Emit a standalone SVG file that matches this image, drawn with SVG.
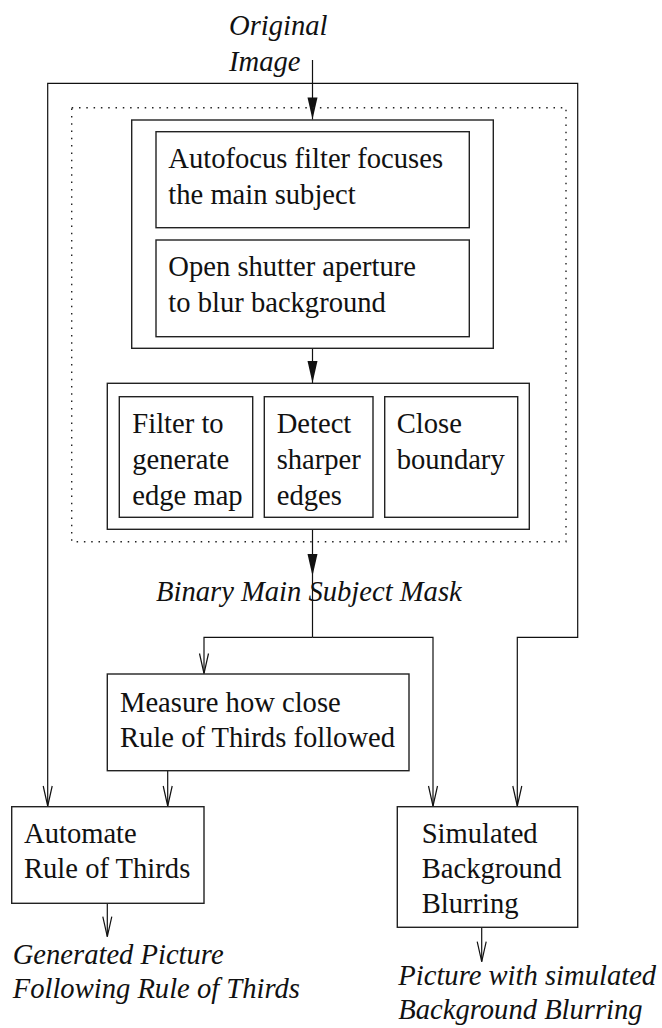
<svg xmlns="http://www.w3.org/2000/svg" width="662" height="1028" viewBox="0 0 662 1028">
<style>
.box{fill:none;stroke:#222;stroke-width:1.4}
.dot{fill:none;stroke:#222;stroke-width:1.4;stroke-dasharray:1.5 5.8}
.conn{fill:none;stroke:#111;stroke-width:1.2}
.t{font-family:"Liberation Serif","Times New Roman",serif;font-size:28.6px;fill:#111}
.i{font-style:italic}
</style>
<defs>
<marker id="fa" markerUnits="userSpaceOnUse" markerWidth="22" markerHeight="10" refX="22" refY="5" orient="auto" overflow="visible">
<path d="M0,0 L22,5 L0,10 z" fill="#111"/>
</marker>
<marker id="oa" markerUnits="userSpaceOnUse" markerWidth="20" markerHeight="10" refX="20" refY="4.5" orient="auto" overflow="visible">
<path d="M0,0 L20,4.5 L0,9" fill="none" stroke="#111" stroke-width="1.2"/>
</marker>
</defs>
<g id="connectors">
<path class="conn" d="M312.5,60 V119.5" marker-end="url(#fa)"/>
<path class="conn" d="M312.5,83.3 H47.7 V806" marker-end="url(#oa)"/>
<path class="conn" d="M312.5,83.3 H577.7 V637.3 H517.3 V806" marker-end="url(#oa)"/>
<path class="conn" d="M312.5,348.3 V383" marker-end="url(#fa)"/>
<path class="conn" d="M312.5,529.3 V576" marker-end="url(#fa)"/>
<path class="conn" d="M312.5,576 V637.3"/>
<path class="conn" d="M312.5,637.3 H204 V673.5" marker-end="url(#oa)"/>
<path class="conn" d="M312.5,637.3 H433 V806" marker-end="url(#oa)"/>
<path class="conn" d="M167.7,770.7 V806" marker-end="url(#oa)"/>
<path class="conn" d="M107.3,903.3 V936.7" marker-end="url(#oa)"/>
<path class="conn" d="M481.7,927.3 V961.7" marker-end="url(#oa)"/>
</g>
<g id="label-original">
<text class="t i" x="229" y="35">Original</text>
<text class="t i" x="229" y="70.5">Image</text>
</g>
<g id="dotted-group">
<rect class="dot" x="71.7" y="107.7" width="494.3" height="434"/>
</g>
<g id="focus-container">
<rect class="box" x="131.7" y="120" width="361.6" height="228.3"/>
</g>
<g id="autofocus">
<rect class="box" x="156" y="131.7" width="313.3" height="96"/>
<text class="t" x="168.3" y="167.7">Autofocus filter focuses</text>
<text class="t" x="168.3" y="203.5">the main subject</text>
</g>
<g id="shutter">
<rect class="box" x="156" y="240" width="313.3" height="96.7"/>
<text class="t" x="168.3" y="276">Open shutter aperture</text>
<text class="t" x="168.3" y="312">to blur background</text>
</g>
<g id="edge-container">
<rect class="box" x="107.3" y="383.3" width="422" height="146"/>
</g>
<g id="filter">
<rect class="box" x="119.3" y="396.7" width="133.4" height="120.6"/>
<text class="t" x="132.3" y="433">Filter to</text>
<text class="t" x="132.3" y="469">generate</text>
<text class="t" x="132.3" y="505">edge map</text>
</g>
<g id="detect">
<rect class="box" x="264.3" y="396.7" width="108.7" height="120.6"/>
<text class="t" x="276.7" y="433">Detect</text>
<text class="t" x="276.7" y="469">sharper</text>
<text class="t" x="276.7" y="505">edges</text>
</g>
<g id="close">
<rect class="box" x="384.7" y="396.7" width="133" height="120.6"/>
<text class="t" x="396.7" y="433">Close</text>
<text class="t" x="396.7" y="469">boundary</text>
</g>
<g id="label-mask">
<text class="t i" x="156" y="601">Binary Main Subject Mask</text>
</g>
<g id="measure">
<rect class="box" x="107.3" y="674" width="301.7" height="96.7"/>
<text class="t" x="120" y="711.7">Measure how close</text>
<text class="t" x="120" y="747.3">Rule of Thirds followed</text>
</g>
<g id="automate">
<rect class="box" x="11.7" y="806.7" width="192.3" height="96.6"/>
<text class="t" x="24" y="842.7">Automate</text>
<text class="t" x="24" y="878.3">Rule of Thirds</text>
</g>
<g id="simulated">
<rect class="box" x="397.3" y="806.7" width="180.4" height="120.6"/>
<text class="t" x="421.7" y="842.7">Simulated</text>
<text class="t" x="421.7" y="877.7">Background</text>
<text class="t" x="421.7" y="912.7">Blurring</text>
</g>
<g id="label-generated">
<text class="t i" x="12.7" y="964.3">Generated Picture</text>
<text class="t i" x="12.7" y="998.3">Following Rule of Thirds</text>
</g>
<g id="label-picture">
<text class="t i" x="398.3" y="985">Picture with simulated</text>
<text class="t i" x="398.3" y="1019.3">Background Blurring</text>
</g>
</svg>
